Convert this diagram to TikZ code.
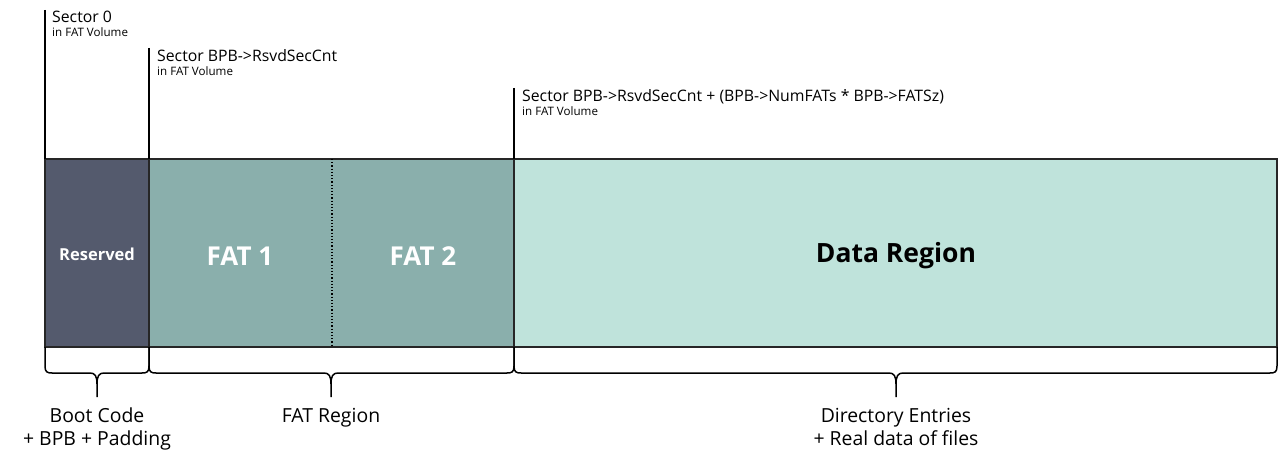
\documentclass[tikz,border=0pt]{standalone}
\usepackage{fontspec}
\setmainfont{Open Sans}
\definecolor{resv}{HTML}{545A6D}
\definecolor{fatc}{HTML}{8AAFAC}
\definecolor{datac}{HTML}{BFE3DB}
\definecolor{edge}{HTML}{262626}
\tikzset{
  region/.style={draw=edge, line width=1.6pt, inner sep=0pt, outer sep=0pt, minimum height=188pt, anchor=north west},
  marker/.style={line width=1.6pt, black},
  bigtxt/.style={font=\fontsize{15.8}{18}\selectfont, anchor=base west, inner sep=0pt},
  smalltxt/.style={font=\fontsize{11.6}{13}\selectfont, anchor=base west, inner sep=0pt},
  lbl/.style={font=\fontsize{19.4}{23}\selectfont, anchor=base, inner sep=0pt},
  bracestyle/.style={line width=1.5pt, black, line join=round},
}
\newcommand{\mybrace}[3]{% left x, right x, tip x
  \draw[bracestyle] (#1,347) -- (#1,366) .. controls (#1,372) and (#1+2,373) .. (#1+7,373)
    -- (#3-7,373) .. controls (#3-2,373) and (#3,376) .. (#3,384) -- (#3,397);
  \draw[bracestyle] (#2,347) -- (#2,366) .. controls (#2,372) and (#2-2,373) .. (#2-7,373)
    -- (#3+7,373) .. controls (#3+2,373) and (#3,376) .. (#3,384);
}
\begin{document}
\begin{tikzpicture}[x=1pt,y=-1pt]
\useasboundingbox (0,0) rectangle (1280,462);
% regions
\node[region, fill=resv, minimum width=104pt] (res) at (45,159) {};
\node[region, fill=fatc, minimum width=365pt] (fat) at (149,159) {};
\node[region, fill=datac, minimum width=763pt] (data) at (514,159) {};
\draw[black, line width=1.2pt, dotted] (332,159) -- (332,347);
\node[font=\bfseries\fontsize{16.5}{20}\selectfont, text=white] (rtxt) at (97,254) {Reserved};
\node[font=\bfseries\fontsize{26}{30}\selectfont, text=white] (f1) at (240,256) {FAT 1};
\node[font=\bfseries\fontsize{26}{30}\selectfont, text=white] (f2) at (423,256) {FAT 2};
\node[font=\bfseries\fontsize{26.5}{30}\selectfont, text=black] (dtxt) at (896,256) {Data Region};
% markers
\coordinate (m0) at (45,10);
\coordinate (m1) at (149,48);
\coordinate (m2) at (514,88);
\draw[marker] (m0) -- (res.north west);
\draw[marker] (m1) -- (fat.north west);
\draw[marker] (m2) -- (data.north west);
\node[bigtxt] (s0) at (52,23) {Sector 0};
\node[smalltxt] (s0b) at (52,37) {in FAT Volume};
\node[bigtxt] (s1) at (157,62) {Sector BPB->RsvdSecCnt};
\node[smalltxt] (s1b) at (157,76) {in FAT Volume};
\node[bigtxt] (s2) at (522,102) {Sector BPB->RsvdSecCnt + (BPB->NumFATs * BPB->FATSz)};
\node[smalltxt] (s2b) at (522,116) {in FAT Volume};
% braces
\mybrace{45}{149}{97}
\mybrace{149}{514}{331}
\mybrace{514}{1277}{896}
\node[lbl] (l0) at (97,422) {Boot Code};
\node[lbl] (l0b) at (97,445) {+ BPB + Padding};
\node[lbl] (l1) at (331,422) {FAT Region};
\node[lbl] (l2) at (896,422) {Directory Entries};
\node[lbl] (l2b) at (896,445) {+ Real data of files};
\end{tikzpicture}
\end{document}
